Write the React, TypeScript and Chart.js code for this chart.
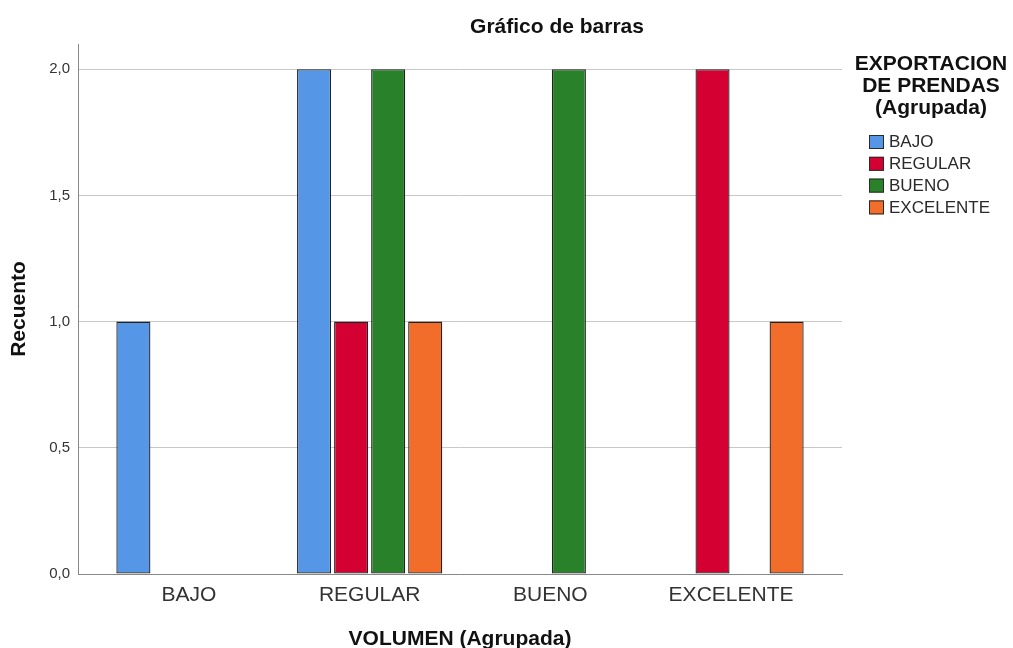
import React, { useEffect, useRef } from "react";
import { Chart, registerables } from "chart.js";

Chart.register(...registerables);

const CATEGORIES = ["BAJO", "REGULAR", "BUENO", "EXCELENTE"];
const SERIES_LABELS = ["BAJO", "REGULAR", "BUENO", "EXCELENTE"];
const BAJO_VALUES = [1, 2, 0, 0];
const REGULAR_VALUES = [0, 1, 0, 2];
const BUENO_VALUES = [0, 2, 2, 0];
const EXCELENTE_VALUES = [0, 1, 0, 1];
const Y_TICKS = [0, 0.5, 1, 1.5, 2];
const COLORS = ["#5596E6", "#D50032", "#29822A", "#F26C2A"];
const TITLE = "Gráfico de barras";
const LEGEND_TITLE = ["EXPORTACION", "DE PRENDAS", "(Agrupada)"];
const X_TITLE = "VOLUMEN (Agrupada)";
const Y_TITLE = "Recuento";

const FONT = "'Liberation Sans', Arial, sans-serif";

const titlePlugin = {
  id: "customTitle",
  afterDraw(chart: any) {
    const ctx = chart.ctx;
    ctx.save();
    ctx.fillStyle = "#111";
    ctx.font = `bold 21px ${FONT}`;
    ctx.textAlign = "center";
    ctx.textBaseline = "middle";
    ctx.fillText(TITLE, 557, 27);
    ctx.restore();
  },
};

const legendPlugin = {
  id: "customLegend",
  afterDraw(chart: any) {
    const ctx = chart.ctx;
    ctx.save();
    ctx.fillStyle = "#111";
    ctx.font = `bold 21px ${FONT}`;
    ctx.textAlign = "center";
    ctx.textBaseline = "middle";
    LEGEND_TITLE.forEach((t, i) => ctx.fillText(t, 931, 64 + i * 22));
    ctx.font = `17px ${FONT}`;
    ctx.textAlign = "left";
    chart.data.datasets.forEach((ds: any, i: number) => {
      const top = 135 + i * 21.8;
      ctx.fillStyle = ds.backgroundColor;
      ctx.fillRect(869, top, 15, 14);
      ctx.strokeStyle = "#2a2a2a";
      ctx.lineWidth = 1;
      ctx.strokeRect(869.5, top + 0.5, 14, 13);
      ctx.fillStyle = "#2a2a2a";
      ctx.fillText(ds.label, 889, top + 7.5);
    });
    ctx.restore();
  },
};

export default function App() {
  const ref = useRef<HTMLCanvasElement | null>(null);

  useEffect(() => {
    if (!ref.current) return;
    const seriesValues = [BAJO_VALUES, REGULAR_VALUES, BUENO_VALUES, EXCELENTE_VALUES];
    const datasets = SERIES_LABELS.map((label, s) => ({
      label,
      data: seriesValues[s].map((v, i) => ({ x: i, y: v === 0 ? null : v })),
      backgroundColor: COLORS[s],
      borderColor: "#222",
      borderWidth: 1.3,
      borderSkipped: false,
      barPercentage: 0.92,
      categoryPercentage: 0.82,
    }));
    const chart = new Chart(ref.current, {
      type: "bar",
      data: { datasets },
      plugins: [titlePlugin, legendPlugin],
      options: {
        animation: false,
        responsive: true,
        maintainAspectRatio: false,
        layout: { padding: { top: 44, right: 171, left: 0, bottom: 0 } },
        plugins: {
          legend: { display: false },
          title: { display: false },
          tooltip: { enabled: false },
        },
        scales: {
          x: {
            type: "linear",
            min: -0.614,
            max: 3.614,
            offset: false,
            grid: { display: false, drawTicks: false, tickLength: 0 },
            border: { display: true, color: "#888", width: 1 },
            afterBuildTicks: (axis: any) => {
              axis.ticks = CATEGORIES.map((_, i) => ({ value: i }));
            },
            afterFit: (scale: any) => {
              scale.height = 74;
            },
            ticks: {
              autoSkip: false,
              maxRotation: 0,
              padding: 9,
              color: "#333",
              font: { family: FONT, size: 21 },
              callback: (v: any) => CATEGORIES[Math.round(v)] ?? "",
            },
            title: {
              display: true,
              text: X_TITLE,
              color: "#111",
              font: { family: FONT, size: 21, weight: "bold", lineHeight: 0.8 },
              padding: { top: 0, bottom: 0 },
            },
          },
          y: {
            type: "linear",
            min: 0,
            max: 2.1,
            grid: { color: "#c8c8c8", drawTicks: false, tickLength: 0, lineWidth: 1 },
            border: { display: true, color: "#888", width: 1 },
            afterBuildTicks: (axis: any) => {
              axis.ticks = Y_TICKS.map((v) => ({ value: v }));
            },
            afterFit: (scale: any) => {
              scale.width = 78;
            },
            ticks: {
              padding: 8,
              color: "#333",
              font: { family: FONT, size: 15 },
              callback: (v: any) => Number(v).toFixed(1).replace(".", ","),
            },
            title: {
              display: true,
              text: Y_TITLE,
              color: "#111",
              font: { family: FONT, size: 21, weight: "bold", lineHeight: 1 },
              padding: { top: 9, bottom: 0 },
            },
          },
        },
      } as any,
    });
    return () => chart.destroy();
  }, []);

  return (
    <div style={{ position: "fixed", left: 0, top: 0, width: 1013, height: 648, background: "#fff" }}>
      <canvas ref={ref} />
    </div>
  );
}
